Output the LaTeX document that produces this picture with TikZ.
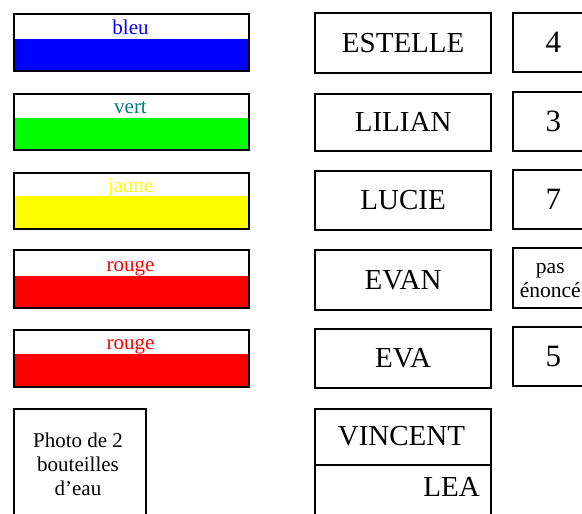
\documentclass[tikz,border=0pt]{standalone}
\usepackage{fontspec}
\setmainfont{Liberation Serif}
\definecolor{cblue}{HTML}{0000FF}
\definecolor{cgreen}{HTML}{00FF00}
\definecolor{cyellow}{HTML}{FFFF00}
\definecolor{cred}{HTML}{FF0000}
\definecolor{cteal}{HTML}{008080}
\tikzset{
  frame/.style={draw, line width=2pt, inner sep=0pt, anchor=north west},
  smalltxt/.style={font=\fontsize{21}{24.5}\selectfont, inner sep=0pt},
  bigtxt/.style={font=\fontsize{29}{33}\selectfont, inner sep=0pt},
  numtxt/.style={font=\fontsize{31}{34}\selectfont, inner sep=0pt},
  colbox/.style={frame, minimum width=235.6pt, minimum height=57pt},
  namebox/.style={frame, minimum width=175.7pt, minimum height=59pt},
  numbox/.style={frame, minimum width=82pt, minimum height=59.5pt},
}
\begin{document}
\begin{tikzpicture}[x=1pt,y=-1pt]
\useasboundingbox (0,0) rectangle (582,514);
\clip (0,0) rectangle (582,514);
% colour strips
\fill[cblue]   (12.7,39)    rectangle (248.3,70);
\fill[cgreen]  (12.7,117.7) rectangle (248.3,149.3);
\fill[cyellow] (12.7,195.7) rectangle (248.3,228.3);
\fill[cred]    (12.7,276)   rectangle (248.3,306.7);
\fill[cred]    (12.7,354)   rectangle (248.3,386);
% colour frames
\node[colbox, minimum height=57.3pt] (c1) at (12.7,12.7) {};
\node[colbox, minimum height=56.6pt] (c2) at (12.7,92.7) {};
\node[colbox, minimum height=56.6pt] (c3) at (12.7,171.7) {};
\node[colbox, minimum height=57.4pt] (c4) at (12.7,249.3) {};
\node[colbox, minimum height=56.7pt] (c5) at (12.7,329.3) {};
% colour labels
\node[smalltxt, text=cblue, anchor=base]   (l1) at (130.5,34.3)  {bleu};
\node[smalltxt, text=cteal, anchor=base]   (l2) at (130.5,113.3) {vert};
\node[smalltxt, text=cyellow, anchor=base] (l3) at (130.5,192.3) {jaune};
\node[smalltxt, text=cred, anchor=base]    (l4) at (130.5,271)   {rouge};
\node[smalltxt, text=cred, anchor=base]    (l5) at (130.5,349)   {rouge};
% name boxes
\node[namebox, minimum height=60pt]   (n1) at (314.3,11.7)  {};
\node[namebox, minimum height=57pt]   (n2) at (314.3,92.5)  {};
\node[namebox, minimum height=59pt]   (n3) at (314.3,170)   {};
\node[namebox, minimum height=59.7pt] (n4) at (314.3,249.3) {};
\node[namebox, minimum height=58.4pt] (n5) at (314.3,328.3) {};
\node[bigtxt] at (n1.center) {ESTELLE};
\node[bigtxt] at (n2.center) {LILIAN};
\node[bigtxt] at (n3.center) {LUCIE};
\node[bigtxt] at (n4.center) {EVAN};
\node[bigtxt] at (n5.center) {EVA};
% number boxes
\node[numbox] (m1) at (512.3,11.7) {};
\node[numbox] (m2) at (512.3,90.5) {};
\node[numbox] (m3) at (512.3,168.5) {};
\node[numbox] (m4) at (512.3,247.3) {};
\node[numbox] (m5) at (512.3,325.5) {};
\node[numtxt] at ([xshift=-1pt]m1.center) {4};
\node[numtxt] at ([xshift=-1pt]m2.center) {3};
\node[numtxt] at ([xshift=-1pt]m3.center) {7};
\node[smalltxt, align=center, font=\fontsize{21.5}{24}\selectfont] at ([xshift=-4pt,yshift=-2pt]m4.center) {pas\\énoncé};
\node[numtxt] at ([xshift=-1pt]m5.center) {5};
% photo box
\node[frame, minimum width=132pt, minimum height=130pt] (ph) at (13.3,408.3) {};
\node[smalltxt, align=center, anchor=base, font=\fontsize{21}{24}\selectfont] (pht) at (78,495) {Photo de 2\\bouteilles\\d’eau};
% vincent / lea
\node[frame, minimum width=175.7pt, minimum height=56pt] (v) at (314.3,408.3) {};
\node[frame, minimum width=175.7pt, minimum height=70pt] (le) at (314.3,464.3) {};
\node[bigtxt, anchor=base] (vt) at (401.5,445) {VINCENT};
\node[bigtxt, anchor=base east] (lt) at (480,496) {LEA};
\end{tikzpicture}
\end{document}
